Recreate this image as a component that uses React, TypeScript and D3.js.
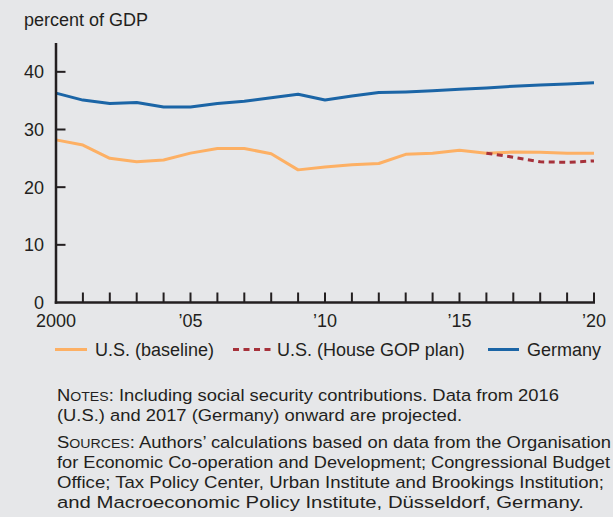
import React, { useEffect } from "react";
import * as d3 from "d3";

const years = d3.range(2000, 2021);
const germany = [36.3, 35.1, 34.5, 34.7, 33.9, 33.9, 34.5, 34.9, 35.5, 36.1, 35.1, 35.8, 36.4, 36.5, 36.7, 37.0, 37.2, 37.5, 37.7, 37.9, 38.1];
const usBaseline = [28.2, 27.3, 25.0, 24.4, 24.7, 25.9, 26.7, 26.7, 25.8, 23.0, 23.5, 23.9, 24.1, 25.7, 25.9, 26.4, 25.9, 26.1, 26.05, 25.9, 25.9];
const gopYears = [2016, 2017, 2018, 2019, 2020];
const usGop = [25.9, 25.2, 24.4, 24.3, 24.55];
const yTicks = [0, 10, 20, 30, 40];
const xLabels: [number, string][] = [[2000, "2000"], [2005, "\u201905"], [2010, "\u201910"], [2015, "\u201915"], [2020, "\u201920"]];
const legendItems = ["U.S. (baseline)", "U.S. (House GOP plan)", "Germany"];

const BG = "#e6e7e9";
const BLUE = "#1b65a6";
const ORANGE = "#fdb064";
const RED = "#a6313a";
const INK = "#231f20";
const FONT = "'Liberation Sans', Arial, Helvetica, sans-serif";

export default function App() {
  useEffect(() => {
    document.body.style.margin = "0";
    document.body.style.background = BG;
  }, []);

  const W = 613, H = 517;
  const x = d3.scaleLinear().domain([2000, 2020]).range([56, 594]);
  const y = d3.scaleLinear().domain([0, 45]).range([302.5, 43]);
  const line = d3.line<[number, number]>().x(d => x(d[0])).y(d => y(d[1]));

  const gerPath = line(years.map((yr, i) => [yr, germany[i]]))!;
  const basePath = line(years.map((yr, i) => [yr, usBaseline[i]]))!;
  const gopPath = line(gopYears.map((yr, i) => [yr, usGop[i]]))!;

  const noteSize = 16.3;
  const sc = 12.5;
  const nx = 57;

  return (
    <svg width={W} height={H} style={{ display: "block", background: BG }} fontFamily={FONT}>
      <rect x={0} y={0} width={W} height={H} fill={BG} />
      <text x={24} y={25.5} fontSize={18} fill={INK}>percent of GDP</text>

      {yTicks.map(t => (
        <g key={t}>
          {t > 0 && <line x1={x(2000)} x2={x(2000) + 9.5} y1={y(t)} y2={y(t)} stroke={INK} strokeWidth={2} />}
          <text x={44} y={y(t)} dy="0.36em" textAnchor="end" fontSize={18} fill={INK}>{t}</text>
        </g>
      ))}
      {years.slice(1).map(yr => (
        <line key={yr} x1={x(yr)} x2={x(yr)} y1={y(0)} y2={y(0) - 10} stroke={INK} strokeWidth={2} />
      ))}
      {xLabels.map(([yr, lab]) => (
        <text key={yr} x={x(yr)} y={327} textAnchor="middle" fontSize={18} fill={INK}>{lab}</text>
      ))}

      <path d={basePath} fill="none" stroke={ORANGE} strokeWidth={3} strokeLinejoin="round" />
      <path d={gopPath} fill="none" stroke={RED} strokeWidth={3} strokeDasharray="6,4.5" />
      <path d={gerPath} fill="none" stroke={BLUE} strokeWidth={3} strokeLinejoin="round" />

      <line x1={x(2000)} x2={x(2000)} y1={43} y2={y(0) + 1.25} stroke={INK} strokeWidth={2.5} />
      <line x1={x(2000) - 1.25} x2={x(2020) + 1} y1={y(0)} y2={y(0)} stroke={INK} strokeWidth={2.5} />

      <line x1={55} x2={87} y1={349.5} y2={349.5} stroke={ORANGE} strokeWidth={3} />
      <text x={95} y={356} fontSize={18} fill={INK}>{legendItems[0]}</text>
      <line x1={233} x2={271} y1={349.5} y2={349.5} stroke={RED} strokeWidth={3} strokeDasharray="6,4.5" />
      <text x={277} y={356} fontSize={18} fill={INK}>{legendItems[1]}</text>
      <line x1={488} x2={519} y1={349.5} y2={349.5} stroke={BLUE} strokeWidth={3} />
      <text x={527} y={356} fontSize={18} fill={INK}>{legendItems[2]}</text>

      <g fontSize={noteSize} fill={INK}>
        <text x={nx} y={401} textLength={502} lengthAdjust="spacingAndGlyphs">
          N<tspan fontSize={sc}>OTES</tspan>: Including social security contributions. Data from 2016
        </text>
        <text x={nx} y={421} textLength={405} lengthAdjust="spacingAndGlyphs">
          (U.S.) and 2017 (Germany) onward are projected.
        </text>
        <text x={nx} y={448} textLength={554} lengthAdjust="spacingAndGlyphs">
          S<tspan fontSize={sc}>OURCES</tspan>: Authors’ calculations based on data from the Organisation
        </text>
        <text x={nx} y={468} textLength={553} lengthAdjust="spacingAndGlyphs">
          for Economic Co-operation and Development; Congressional Budget
        </text>
        <text x={nx} y={488} textLength={547} lengthAdjust="spacingAndGlyphs">
          Office; Tax Policy Center, Urban Institute and Brookings Institution;
        </text>
        <text x={nx} y={508} textLength={527} lengthAdjust="spacingAndGlyphs">
          and Macroeconomic Policy Institute, Düsseldorf, Germany.
        </text>
      </g>
    </svg>
  );
}
